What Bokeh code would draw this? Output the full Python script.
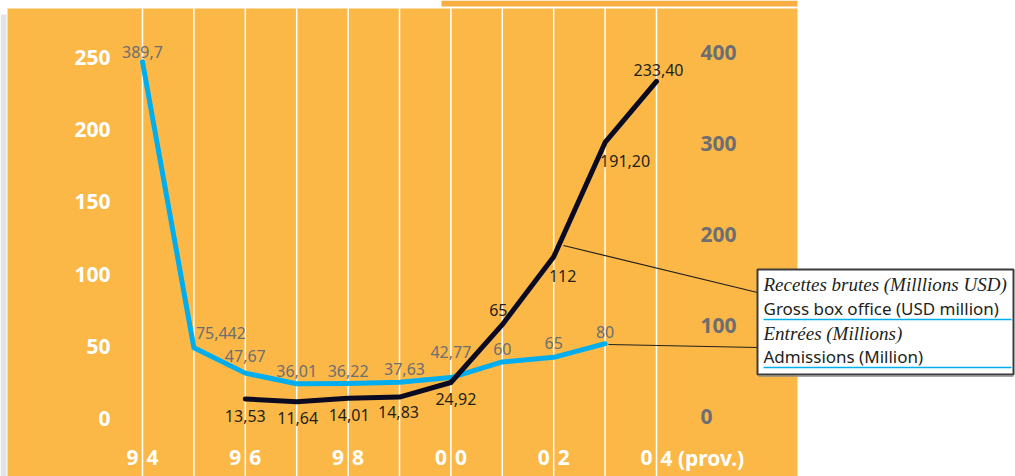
from bokeh.plotting import figure
from bokeh.models import ColumnDataSource, Range1d
from bokeh.core.properties import value
from bokeh.embed import file_html
from bokeh.resources import INLINE

# ---------------- data ----------------
adm_years = [1994, 1995, 1996, 1997, 1998, 1999, 2000, 2001, 2002, 2003]
admissions = [389.7, 75.442, 47.67, 36.01, 36.22, 37.63, 42.77, 60, 65, 80]
adm_labels = ["389,7", "75,442", "47,67", "36,01", "36,22", "37,63", "42,77", "60", "65", "80"]

box_years = [1996, 1997, 1998, 1999, 2000, 2001, 2002, 2003, 2004]
box_office = [13.53, 11.64, 14.01, 14.83, 24.92, 65, 112, 191.20, 233.40]
box_labels = ["13,53", "11,64", "14,01", "14,83", "24,92", "65", "112", "191,20", "233,40"]

grid_years = [1994, 1995, 1996, 1997, 1998, 1999, 2000, 2001, 2002, 2003, 2004]
left_ticks = [0, 50, 100, 150, 200, 250]
right_ticks = [0, 100, 200, 300, 400]
x_tick_years = [1994, 1996, 1998, 2000, 2002, 2004]
x_tick_first = ["9", "9", "9", "0", "0", "0"]
x_tick_second = ["4", "6", "8", "0", "2", "4 (prov.)"]

legend_lines = ["Recettes brutes (Milllions USD)", "Gross box office (USD million)",
                "Entrées (Millions)", "Admissions (Million)"]

# ---------------- styles / layout ----------------
ORANGE = "#FBB846"
ORANGE_TOP = "#F9AE42"
BLUE = "#00AEEF"
DARK = "#0A0B23"
GRAY = "#6D6E71"
TEXT_DARK = "#231F20"
FONT = "Noto Sans"

W, H = 1015, 476
PX_YEAR = 51.4
X0 = 1994 - 142 / PX_YEAR
KL = 361 / 250.0   # px per unit, left axis
KR = 364 / 400.0   # px per unit, right axis
L0 = 418           # canvas y of left 0
R0 = 416           # canvas y of right 0

# label offsets (screen px) for the data labels
adm_dx = [0, 27, 0, 0, 0, 5, 0, 0, 0, 0]
adm_dy = [-10, -15, -17, -13, -13, -13, -26, -13, -14, -12]
box_dx = [0, 1, 1, -1, 5, -4, 9, 20, 2]
box_dy = [17, 16, 17, 15, 16, -15, 19, 19, -11]


def sx(px):
    return X0 + px / PX_YEAR


def sy(py):
    return (L0 - py) / KL


p = figure(width=W, height=H, output_backend="svg", toolbar_location=None,
           x_range=Range1d(X0, X0 + W / PX_YEAR),
           y_range=Range1d(-(H - L0) / KL, L0 / KL),
           min_border=0, outline_line_color=None,
           background_fill_color="white", border_fill_color="white")
p.extra_y_ranges = {"right": Range1d(-(H - R0) / KR, R0 / KR)}
p.xaxis.visible = False
p.yaxis.visible = False
p.xgrid.visible = False
p.ygrid.visible = False

# panel decoration
p.quad(left=sx(0), right=sx(6), top=sy(14), bottom=sy(476), fill_color="#E2E3E4", line_color=None)
p.quad(left=sx(441), right=sx(797), top=sy(0), bottom=sy(6), fill_color=ORANGE_TOP, line_color=None)
p.quad(left=sx(7), right=sx(797), top=sy(8), bottom=sy(476), fill_color=ORANGE, line_color=None)
# white year lines
p.segment(x0=grid_years, x1=grid_years, y0=sy(8), y1=sy(476), line_color="white", line_width=1.5)

# series
adm_src = ColumnDataSource(dict(x=adm_years, y=admissions, t=adm_labels, dx=adm_dx, dy=adm_dy))
box_src = ColumnDataSource(dict(x=box_years, y=box_office, t=box_labels, dx=box_dx, dy=box_dy))

p.line("x", "y", source=adm_src, y_range_name="right", line_color=BLUE, line_width=5,
       line_join="round", line_cap="round")
p.line("x", "y", source=box_src, line_color=DARK, line_width=5,
       line_join="round", line_cap="round")

# leader lines to legend
p.segment(x0=[sx(563), sx(608)], y0=[sy(245), sy(344)],
          x1=[sx(757), sx(757)], y1=[sy(292), sy(347)],
          line_color=TEXT_DARK, line_width=1.2)

# legend box
p.quad(left=sx(757), right=sx(1013), top=sy(269), bottom=sy(374),
       fill_color="white", line_color="#3C3C3C", line_width=2)
p.segment(x0=sx(758), x1=sx(1013), y0=sy(375.5), y1=sy(375.5), line_color="#8A8A8A", line_width=1.5)
leg_y = [sy(284), sy(308), sy(333), sy(356)]
p.text(x=sx(763), y=[leg_y[0], leg_y[2]], text=[legend_lines[0], legend_lines[2]],
       text_font=value("Liberation Serif"), text_font_style="italic", text_font_size="19px",
       text_color=TEXT_DARK, text_align="left", text_baseline="middle")
p.text(x=sx(763), y=[leg_y[1], leg_y[3]], text=[legend_lines[1], legend_lines[3]],
       text_font=value(FONT), text_font_size="17px",
       text_color=TEXT_DARK, text_align="left", text_baseline="middle")
p.segment(x0=[sx(763), sx(763)], y0=[sy(319), sy(367)], x1=[sx(1011), sx(1011)],
          y1=[sy(319), sy(367)], line_color=BLUE, line_width=1.5)

# data labels
p.text("x", "y", text="t", source=adm_src, y_range_name="right", x_offset="dx", y_offset="dy",
       text_font=value(FONT), text_font_size="16px", text_color=GRAY,
       text_align="center", text_baseline="middle")
p.text("x", "y", text="t", source=box_src, x_offset="dx", y_offset="dy",
       text_font=value(FONT), text_font_size="16px", text_color=TEXT_DARK,
       text_align="center", text_baseline="middle")

# left axis labels
p.text(x=sx(110), y=left_ticks, text=[str(v) for v in left_ticks],
       text_font=value(FONT), text_font_style="bold", text_font_size="21px",
       text_color="white", text_align="right", text_baseline="middle")
# right axis labels
p.text(x=sx(700), y=right_ticks, text=[str(v) for v in right_ticks], y_range_name="right",
       text_font=value(FONT), text_font_style="bold", text_font_size="21px",
       text_color=GRAY, text_align="left", text_baseline="middle")
# bottom labels (split around the year line)
p.text(x=x_tick_years, y=sy(457), text=x_tick_first, x_offset=-4,
       text_font=value(FONT), text_font_style="bold", text_font_size="21px",
       text_color="white", text_align="right", text_baseline="middle")
p.text(x=x_tick_years, y=sy(457), text=x_tick_second, x_offset=4,
       text_font=value(FONT), text_font_style="bold", text_font_size="21px",
       text_color="white", text_align="left", text_baseline="middle")

open("out.html", "w").write(file_html(p, INLINE))
